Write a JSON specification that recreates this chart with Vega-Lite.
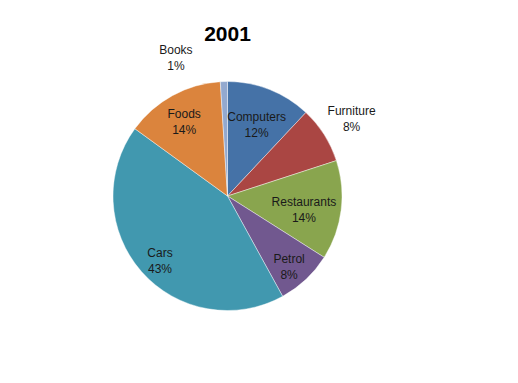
{
  "$schema": "https://vega.github.io/schema/vega-lite/v6.json",
  "width": 229,
  "height": 229,
  "autosize": {"type": "none"},
  "padding": {"left": 113, "top": 81.5, "right": 176, "bottom": 72.5},
  "background": "white",
  "title": {
    "text": "2001",
    "font": "Liberation Sans",
    "fontSize": 21,
    "fontWeight": "bold",
    "color": "black",
    "anchor": "middle",
    "frame": "group",
    "baseline": "alphabetic",
    "offset": -25
  },
  "data": {
    "values": [
      {"idx": 1, "category": "Computers", "value": 12},
      {"idx": 2, "category": "Furniture", "value": 8},
      {"idx": 3, "category": "Restaurants", "value": 14},
      {"idx": 4, "category": "Petrol", "value": 8},
      {"idx": 5, "category": "Cars", "value": 43},
      {"idx": 6, "category": "Foods", "value": 14},
      {"idx": 7, "category": "Books", "value": 1}
    ]
  },
  "transform": [
    {"calculate": "datum.category + '\\n' + datum.value + '%'", "as": "label"}
  ],
  "encoding": {
    "theta": {"field": "value", "type": "quantitative", "stack": true},
    "order": {"field": "idx", "type": "quantitative"},
    "detail": {"field": "category", "type": "nominal"}
  },
  "layer": [
    {
      "mark": {"type": "arc", "radius": 114.5, "stroke": "white", "strokeWidth": 0.6, "strokeOpacity": 0.7},
      "encoding": {
        "color": {
          "field": "category",
          "type": "nominal",
          "scale": {
            "domain": ["Computers", "Furniture", "Restaurants", "Petrol", "Cars", "Foods", "Books"],
            "range": ["#4572A7", "#AA4643", "#89A54E", "#71588F", "#4198AF", "#DB843D", "#93A9CF"]
          },
          "legend": null
        }
      }
    },
    {
      "mark": {"type": "text", "radius": 79, "dy": -6, "font": "Liberation Sans", "fontSize": 12, "lineBreak": "\n", "lineHeight": 16, "color": "#1a1a1a", "align": "center", "baseline": "middle"},
      "encoding": {
        "text": {"condition": {"test": "datum.category == 'Computers'", "field": "label"}, "value": ""}
      }
    },
    {
      "mark": {"type": "text", "radius": 77, "dy": -3.5, "font": "Liberation Sans", "fontSize": 12, "lineBreak": "\n", "lineHeight": 16, "color": "#1a1a1a", "align": "center", "baseline": "middle"},
      "encoding": {
        "text": {"condition": {"test": "datum.category == 'Restaurants'", "field": "label"}, "value": ""}
      }
    },
    {
      "mark": {"type": "text", "radius": 90, "dy": -3, "font": "Liberation Sans", "fontSize": 12, "lineBreak": "\n", "lineHeight": 16, "color": "#1a1a1a", "align": "center", "baseline": "middle"},
      "encoding": {
        "text": {"condition": {"test": "indexof(['Petrol','Cars','Foods'], datum.category) >= 0", "field": "label"}, "value": ""}
      }
    },
    {
      "mark": {"type": "text", "radius": 147, "dy": -6.5, "font": "Liberation Sans", "fontSize": 12, "lineBreak": "\n", "lineHeight": 16, "color": "#1a1a1a", "align": "center", "baseline": "middle"},
      "encoding": {
        "text": {"condition": {"test": "datum.category == 'Furniture'", "field": "label"}, "value": ""}
      }
    },
    {
      "mark": {"type": "text", "radius": 147, "dx": -47, "dy": 1, "font": "Liberation Sans", "fontSize": 12, "lineBreak": "\n", "lineHeight": 16, "color": "#1a1a1a", "align": "center", "baseline": "middle"},
      "encoding": {
        "text": {"condition": {"test": "datum.category == 'Books'", "field": "label"}, "value": ""}
      }
    }
  ],
  "config": {"view": {"stroke": null}}
}
